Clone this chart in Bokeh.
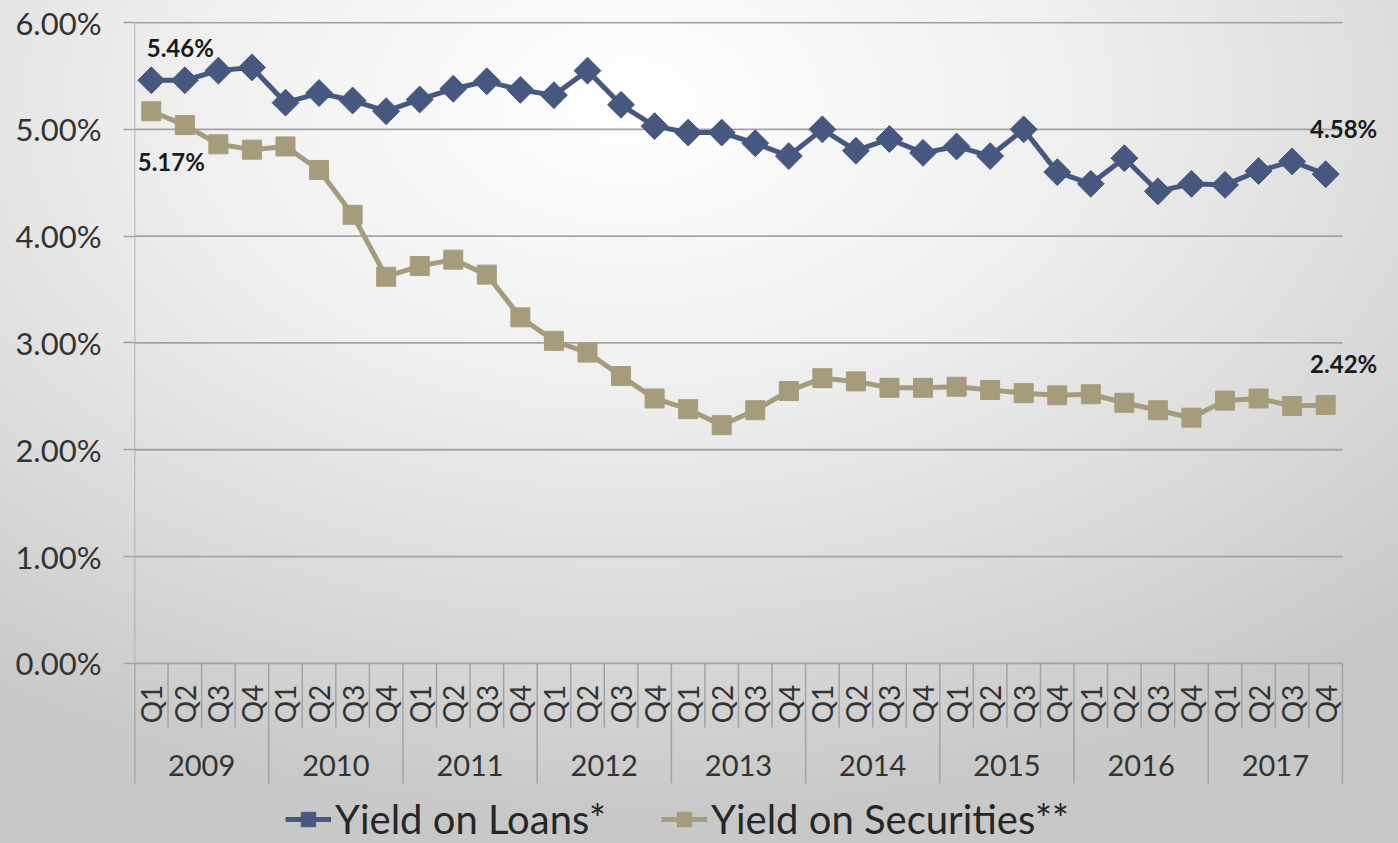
import numpy as np
from math import pi
from bokeh.plotting import figure
from bokeh.models import (Range1d, FixedTicker, PrintfTickFormatter, Legend,
                          LegendItem, Label, ColumnDataSource)
from bokeh.core.properties import value
from bokeh.embed import file_html
from bokeh.resources import INLINE

# ---------------- data ----------------
years = ["2009", "2010", "2011", "2012", "2013", "2014", "2015", "2016", "2017"]
quarters = ["Q1", "Q2", "Q3", "Q4"]
loans = [5.46, 5.46, 5.55, 5.58,
         5.25, 5.34, 5.27, 5.17,
         5.28, 5.38, 5.45, 5.37,
         5.32, 5.55, 5.23, 5.03,
         4.97, 4.97, 4.87, 4.75,
         5.00, 4.80, 4.91, 4.78,
         4.84, 4.75, 5.00, 4.60,
         4.49, 4.73, 4.42, 4.49,
         4.48, 4.61, 4.70, 4.58]
securities = [5.17, 5.04, 4.86, 4.81,
              4.84, 4.62, 4.20, 3.62,
              3.72, 3.78, 3.64, 3.24,
              3.02, 2.91, 2.69, 2.48,
              2.38, 2.23, 2.37, 2.55,
              2.67, 2.64, 2.58, 2.58,
              2.59, 2.56, 2.53, 2.51,
              2.52, 2.44, 2.37, 2.30,
              2.46, 2.48, 2.41, 2.42]
y_ticks = [0, 1, 2, 3, 4, 5, 6]
series_names = ["Yield on Loans*", "Yield on Securities**"]

# ---------------- style ----------------
FONT = "Lato"
NAVY = "#465880"
TAN = "#a69c7c"
GRID = "#a3a3a3"

n = len(loans)
x = np.arange(n) + 0.5
q_labels = [q for _ in years for q in quarters]
nq = len(quarters)
Q_END = -0.6      # depth of quarter separators (axis units)
Y_END = -1.124    # depth of year separators (axis units)

p = figure(frame_width=1264, frame_height=822,
           x_range=Range1d(0, 37.67), y_range=Range1d(-1.687, 6.01),
           output_backend="svg", toolbar_location=None,
           x_axis_location=None, min_border_left=134, min_border_right=0,
           min_border_top=21, min_border_bottom=0)
p.background_fill_alpha = 0
p.border_fill_alpha = 0
p.outline_line_color = None
p.styles = {"background": "radial-gradient(ellipse 80% 85% at 45% 12%, #ffffff 0%, #efefef 40%, #d9d9d9 75%, #c8c8c8 100%)"}

# y axis
yax = p.yaxis[0]
yax.ticker = FixedTicker(ticks=y_ticks)
yax.formatter = PrintfTickFormatter(format="%.2f%%")
yax.major_label_text_font = FONT
yax.major_label_text_font_size = "31px"
yax.major_label_text_color = "#333333"
yax.major_tick_out = 11
yax.major_tick_in = 0
yax.minor_tick_out = 0
yax.minor_tick_in = 0
yax.major_tick_line_color = GRID
yax.major_tick_line_width = 1.5
yax.axis_line_color = None
yax.major_label_standoff = 22

# horizontal grid lines across the category span
p.xgrid.visible = False
p.ygrid.visible = False
p.segment(x0=[0] * len(y_ticks), y0=y_ticks, x1=[n] * len(y_ticks), y1=y_ticks,
          line_color=GRID, line_width=1.8)
# value-axis line
p.segment(x0=[0], y0=[Y_END], x1=[0], y1=[max(y_ticks)],
          line_color=GRID, line_width=1.5)

# category separators under the zero line
bounds = np.arange(n + 1)
qb = [b for b in bounds if b % nq != 0]
yb = [b for b in bounds if b % nq == 0]
p.segment(x0=qb, y0=[0] * len(qb), x1=qb, y1=[Q_END] * len(qb),
          line_color=GRID, line_width=1.5)
p.segment(x0=yb, y0=[0] * len(yb), x1=yb, y1=[Y_END] * len(yb),
          line_color=GRID, line_width=1.5)

# quarter labels (rotated) and year labels
qsrc = ColumnDataSource(dict(x=x, y=[0] * n, t=q_labels))
p.text(x="x", y="y", text="t", source=qsrc, angle=pi / 2, y_offset=60,
       text_align="left", text_baseline="middle",
       text_font=value(FONT), text_font_size="28px", text_color="#333333")
ysrc = ColumnDataSource(dict(x=[nq * i + nq / 2 for i in range(len(years))],
                             y=[0] * len(years), t=years))
p.text(x="x", y="y", text="t", source=ysrc, y_offset=102,
       text_align="center", text_baseline="middle",
       text_font=value(FONT), text_font_size="29px", text_color="#333333")

# series
l1 = p.line(x, loans, line_color=NAVY, line_width=5)
s1 = p.scatter(x, loans, marker="square", angle=pi / 4, size=19,
               fill_color=NAVY, line_color=NAVY)
l2 = p.line(x, securities, line_color=TAN, line_width=5)
s2 = p.scatter(x, securities, marker="square", size=19,
               fill_color=TAN, line_color=TAN)

# value labels for first/last points
lab_style = dict(text_font=FONT, text_font_size="24px", text_font_style="bold",
                 text_color="#1a1a1a", text_align="center")
p.add_layout(Label(x=x[0], y=loans[0], text=f"{loans[0]:.2f}%",
                   x_offset=29, y_offset=18, text_baseline="bottom", **lab_style))
p.add_layout(Label(x=x[0], y=securities[0], text=f"{securities[0]:.2f}%",
                   x_offset=20, y_offset=-36, text_baseline="top", **lab_style))
p.add_layout(Label(x=x[-1], y=loans[-1], text=f"{loans[-1]:.2f}%",
                   x_offset=18, y_offset=31, text_baseline="bottom", **lab_style))
p.add_layout(Label(x=x[-1], y=securities[-1], text=f"{securities[-1]:.2f}%",
                   x_offset=18, y_offset=27, text_baseline="bottom", **lab_style))

legend = Legend(items=[LegendItem(label=series_names[0], renderers=[l1, s1]),
                       LegendItem(label=series_names[1], renderers=[l2, s2])],
                orientation="horizontal", location=(151, 0),
                label_text_font=FONT, label_text_font_size="40px",
                label_text_color="#262626",
                glyph_width=46, glyph_height=36, spacing=55,
                padding=0, margin=0, label_standoff=4,
                background_fill_alpha=0, border_line_color=None)
p.add_layout(legend, "center")

open("out.html", "w").write(file_html(p, INLINE))
